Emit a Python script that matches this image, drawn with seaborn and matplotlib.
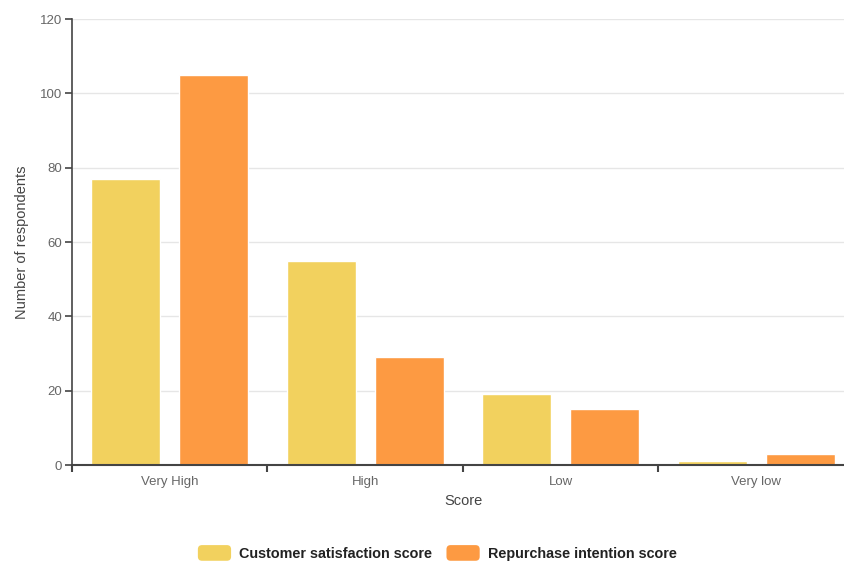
import matplotlib
matplotlib.use("Agg")
import matplotlib.pyplot as plt
import seaborn as sns
import pandas as pd
from matplotlib.patches import FancyBboxPatch
from matplotlib.legend_handler import HandlerPatch

categories = ["Very High", "High", "Low", "Very low"]
series_names = ["Customer satisfaction score", "Repurchase intention score"]
satisfaction = [77, 55, 19, 1]
repurchase = [105, 29, 15, 3]
colors = ["#F2D15E", "#FD9A42"]

df = pd.DataFrame({
    "Score": categories * 2,
    "Count": satisfaction + repurchase,
    "Series": [series_names[0]] * 4 + [series_names[1]] * 4,
})

sns.set_style("white")
plt.rcParams["font.family"] = ["Liberation Sans", "DejaVu Sans"]

fig = plt.figure(figsize=(8.44, 5.63), dpi=100)
ax = fig.add_axes([0.0853, 0.174, 0.9265, 0.792])

sns.barplot(data=df, x="Score", y="Count", hue="Series", order=categories,
            hue_order=series_names, palette=colors, width=0.9, gap=0.22,
            saturation=1, ax=ax, legend=True)

ax.set_xlim(-0.5, 3.5)
ax.set_ylim(0, 120)
ax.set_yticks(range(0, 121, 20))
ax.yaxis.grid(True, color="#e6e6e6", linewidth=1)
ax.set_axisbelow(True)
for s in ["top", "right"]:
    ax.spines[s].set_visible(False)
ax.spines["left"].set_color("#444444")
ax.spines["bottom"].set_color("#444444")
ax.spines["left"].set_linewidth(1.2)
ax.spines["bottom"].set_linewidth(1.5)

ax.set_xticks(range(4))
ax.set_xticklabels(categories)
ax.tick_params(axis="x", which="major", length=0, pad=8, labelsize=9.5, labelcolor="#666666")
ax.set_xticks([-0.5, 0.5, 1.5, 2.5], minor=True)
ax.tick_params(axis="x", which="minor", bottom=True, length=5, width=1.5,
               color="#444444", direction="out")
ax.tick_params(axis="y", length=5, width=1.2, color="#444444", labelsize=9.5,
               labelcolor="#666666", pad=2, left=True)

ax.set_xlabel("Score", fontsize=10.5, color="#444444", labelpad=4)
ax.set_ylabel("Number of respondents", fontsize=10.5, color="#444444", labelpad=8)


class RoundHandler(HandlerPatch):
    def create_artists(self, legend, orig_handle, xdescent, ydescent, width, height, fontsize, trans):
        p = FancyBboxPatch((-xdescent, -ydescent - 2), width, height + 4,
                           boxstyle="round,pad=0,rounding_size=3",
                           facecolor=orig_handle.get_facecolor(), edgecolor="none", transform=trans)
        return [p]


handles, labels = ax.get_legend_handles_labels()
ax.legend_.remove()
leg = fig.legend(handles, labels, loc="center", bbox_to_anchor=(0.518, 0.016), ncol=2,
                 frameon=False, handler_map={h: RoundHandler() for h in handles},
                 handlelength=2.3, handletextpad=0.55, columnspacing=1.0,
                 prop={"weight": "bold", "size": 10.4})
for t in leg.get_texts():
    t.set_color("#222222")

fig.savefig("out.png", dpi=100)
